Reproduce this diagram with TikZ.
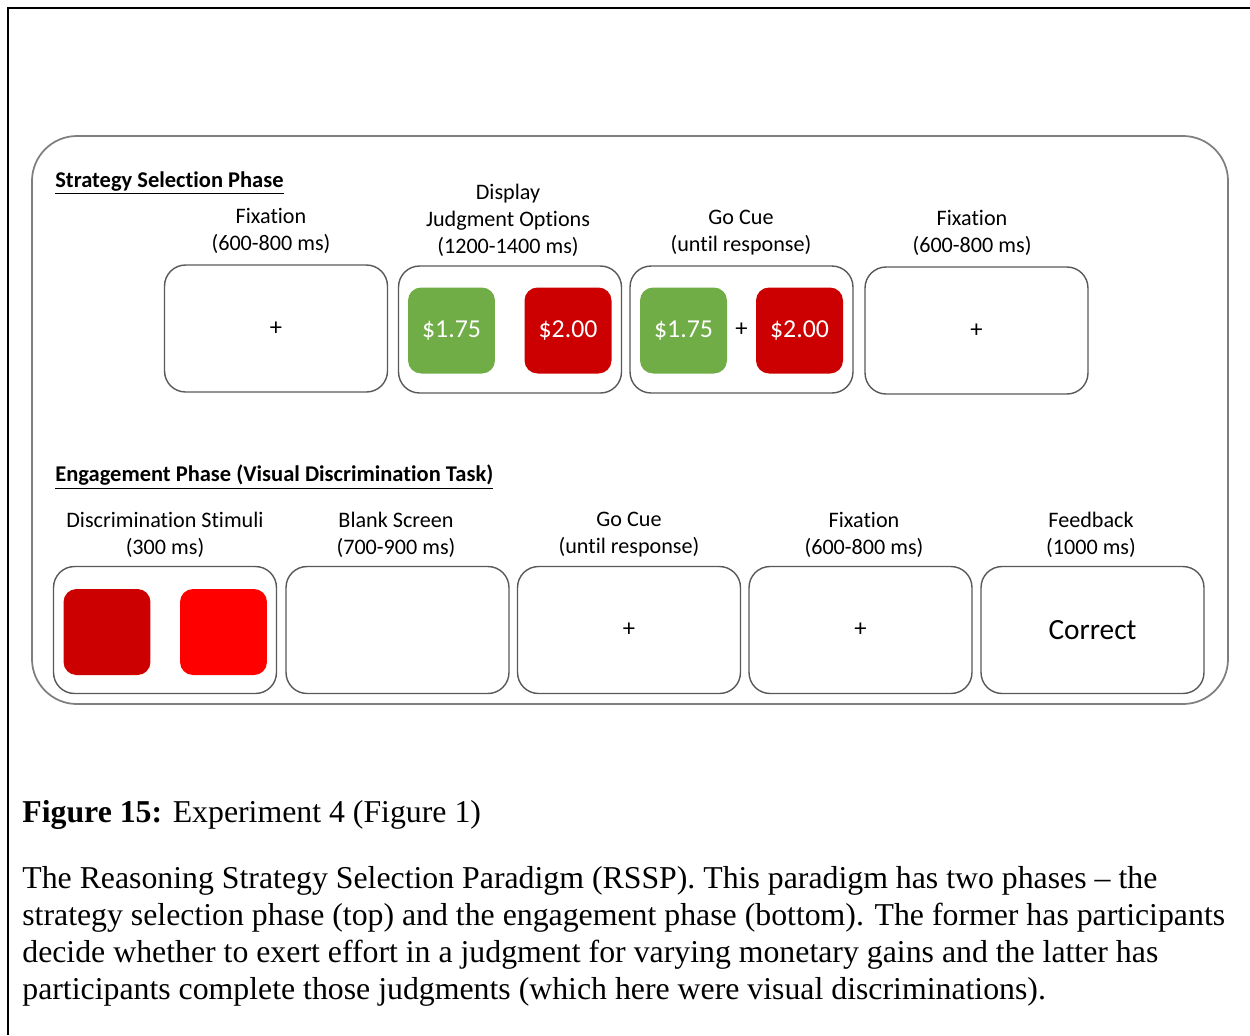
\documentclass[tikz,border=0pt]{standalone}
\usepackage{fontspec}
\setmainfont{Carlito}[Ligatures={TeX,NoCommon}]
\newfontfamily\capfont{Liberation Serif}[Ligatures=TeX]

\definecolor{chipgreen}{HTML}{70AD47}
\definecolor{chipred}{HTML}{CC0000}
\definecolor{brightred}{HTML}{FF0000}
\definecolor{edgegrey}{HTML}{595959}
\definecolor{panelgrey}{HTML}{7F7F7F}

\tikzset{
	screen/.style={draw=edgegrey, line width=0.8pt, rounded corners=0.42cm, minimum width=4.46cm, minimum height=2.54cm, inner sep=0pt, font=\fontsize{14}{16}\selectfont},
	chip/.style={rounded corners=0.26cm, minimum width=1.74cm, minimum height=1.72cm, inner sep=0pt, text=white, font=\fontsize{14.7}{17}\selectfont},
	phase/.style={anchor=west, inner sep=0pt, font=\fontsize{12.8}{15}\selectfont\bfseries},
	timing/.style={align=center, inner sep=0pt, font=\fontsize{12.6}{15.3}\selectfont}
}

\begin{document}
\begin{tikzpicture}[x=0.02cm, y=-0.02cm]

	\useasboundingbox (0,0) rectangle (1250,1035);

	% page frame, cut at right and bottom
	\draw[ line width=1.7pt ] (1250,8) -- (8,8) -- (8,1035);

	% panel
	\draw[ panelgrey, line width=1pt, rounded corners=0.9cm ] (32,136) rectangle (1228,704);

	% strategy selection phase
	\node[ phase ] (selhead) at (55,183) {\underline{Strategy Selection Phase}};

	\node[ timing ] (selfixA) at (271,230.5) {Fixation\\(600-800 ms)};
	\node[ timing ] (seldisp) at (508,220) {Display\\Judgment Options\\(1200-1400 ms)};
	\node[ timing ] (selgo) at (741,232.5) {Go Cue\\(until response)};
	\node[ timing ] (selfixB) at (972,232.5) {Fixation\\(600-800 ms)};

	\node[ screen ] (scrA) at (276,328.5) {+};
	\node[ screen ] (scrB) at (510,329.5) {};
	\node[ screen ] (scrC) at (741.5,329.5) {+};
	\node[ screen ] (scrD) at (976.5,330.5) {+};

	\node[ chip, fill=chipgreen ] (lowB) at (451.5,330.5) {\$1.75};
	\node[ chip, fill=chipred ] (highB) at (568,330.5) {\$2.00};
	\node[ chip, fill=chipgreen ] (lowC) at (683.5,330.5) {\$1.75};
	\node[ chip, fill=chipred ] (highC) at (799.5,330.5) {\$2.00};

	% engagement phase
	\node[ phase ] (enghead) at (55,477) {\underline{Engagement Phase (Visual Discrimination Task)}};

	\node[ timing ] (engstim) at (165,534.5) {Discrimination Stimuli\\(300 ms)};
	\node[ timing ] (engblank) at (396,534.5) {Blank Screen\\(700-900 ms)};
	\node[ timing ] (enggo) at (629,534.5) {Go Cue\\(until response)};
	\node[ timing ] (engfix) at (864,534.5) {Fixation\\(600-800 ms)};
	\node[ timing ] (engfeed) at (1091,534.5) {Feedback\\(1000 ms)};

	\node[ screen ] (scrE) at (165,630) {};
	\node[ screen ] (scrF) at (397.5,630) {};
	\node[ screen ] (scrG) at (629,630) {+};
	\node[ screen ] (scrH) at (860.5,630) {+};
	\node[ screen, font=\fontsize{16.7}{19}\selectfont ] (scrI) at (1092.5,630) {Correct};

	\node[ chip, fill=chipred ] (stimA) at (107,632) {};
	\node[ chip, fill=brightred ] (stimB) at (223.5,632) {};

	% caption
	\node[ anchor=west, inner sep=0pt, font=\capfont\fontsize{18.1}{21}\selectfont ] (figlabel) at (22,815) {\textbf{Figure 15:} Experiment 4 (Figure 1)};

	\node[ anchor=north west, align=left, inner sep=0pt, font=\capfont\fontsize{18.1}{21}\selectfont ] (figtext) at (22,866) {The Reasoning Strategy Selection Paradigm (RSSP). This paradigm has two phases \textendash{} the\\
	strategy selection phase (top) and the engagement phase (bottom). The former has participants\\
	decide whether to exert effort in a judgment for varying monetary gains and the latter has\\
	participants complete those judgments (which here were visual discriminations).};

\end{tikzpicture}
\end{document}
